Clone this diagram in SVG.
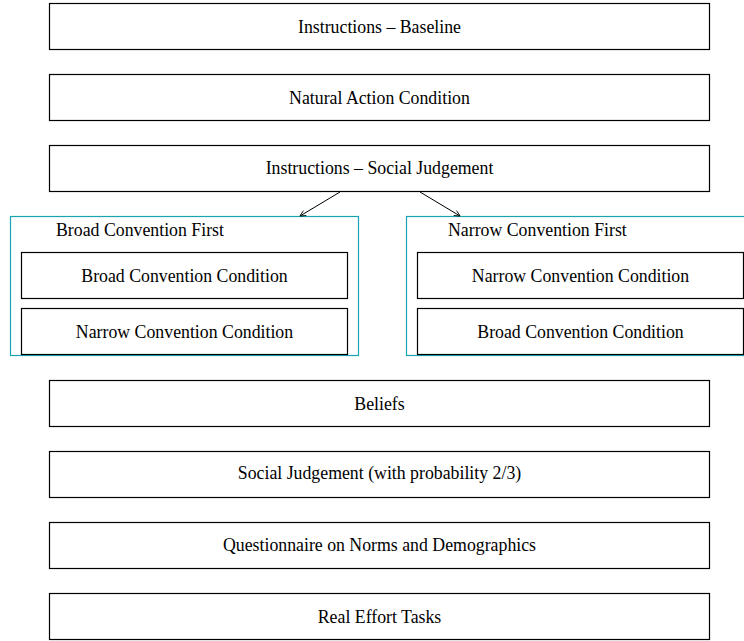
<svg xmlns="http://www.w3.org/2000/svg" width="744" height="641" viewBox="0 0 744 641">
<defs>
<style>
.box{fill:#fff;stroke:#000;stroke-width:1.2}
.grp{fill:none;stroke:#1aa3b3;stroke-width:1.2}
.t{font-family:"Liberation Serif","DejaVu Serif",serif;font-size:17.8px;fill:#000;text-anchor:middle;dominant-baseline:central}
.gl{font-family:"Liberation Serif","DejaVu Serif",serif;font-size:17.8px;fill:#000;dominant-baseline:central}
.c{stroke:#000;stroke-width:1;fill:none;marker-end:url(#ah)}
</style>
<marker id="ah" viewBox="0 0 10 10" refX="9" refY="5" markerWidth="7" markerHeight="7" orient="auto"><path d="M1,1 L9,5 L1,9" fill="none" stroke="#000" stroke-width="1.2"/></marker>
</defs>
<rect width="744" height="641" fill="#fff"/>
<g id="n1"><rect class="box" x="49.5" y="3.5" width="660" height="46"/><text class="t" x="379.5" y="26.5">Instructions – Baseline</text></g>
<g id="n2"><rect class="box" x="49.5" y="74.5" width="660" height="46"/><text class="t" x="379.5" y="97.5">Natural Action Condition</text></g>
<g id="n3"><rect class="box" x="49.5" y="145.5" width="660" height="46"/><text class="t" x="379.5" y="167.5">Instructions – Social Judgement</text></g>
<g id="g1"><rect class="grp" x="10.5" y="216.5" width="348" height="139"/><text class="gl" x="56" y="230">Broad Convention First</text>
<g id="g1a"><rect class="box" x="21.5" y="252.5" width="326" height="46"/><text class="t" x="184.5" y="275.5">Broad Convention Condition</text></g>
<g id="g1b"><rect class="box" x="21.5" y="308.5" width="326" height="46"/><text class="t" x="184.5" y="331.5">Narrow Convention Condition</text></g>
</g>
<g id="g2"><rect class="grp" x="406.5" y="216.5" width="345" height="139"/><text class="gl" x="448" y="230">Narrow Convention First</text>
<g id="g2a"><rect class="box" x="417.5" y="252.5" width="326" height="46"/><text class="t" x="580.5" y="275.5">Narrow Convention Condition</text></g>
<g id="g2b"><rect class="box" x="417.5" y="308.5" width="326" height="46"/><text class="t" x="580.5" y="331.5">Broad Convention Condition</text></g>
</g>
<g id="n4"><rect class="box" x="49.5" y="380.5" width="660" height="46"/><text class="t" x="379.5" y="403.5">Beliefs</text></g>
<g id="n5"><rect class="box" x="49.5" y="451.5" width="660" height="46"/><text class="t" x="379.5" y="472.5">Social Judgement (with probability 2/3)</text></g>
<g id="n6"><rect class="box" x="49.5" y="522.5" width="660" height="46"/><text class="t" x="379.5" y="544.5">Questionnaire on Norms and Demographics</text></g>
<g id="n7"><rect class="box" x="49.5" y="593.5" width="660" height="46"/><text class="t" x="379.5" y="616.5">Real Effort Tasks</text></g>
<g id="connectors">
<line class="c" x1="340" y1="192" x2="300" y2="216"/>
<line class="c" x1="420" y1="192" x2="460" y2="216"/>
</g>
</svg>
